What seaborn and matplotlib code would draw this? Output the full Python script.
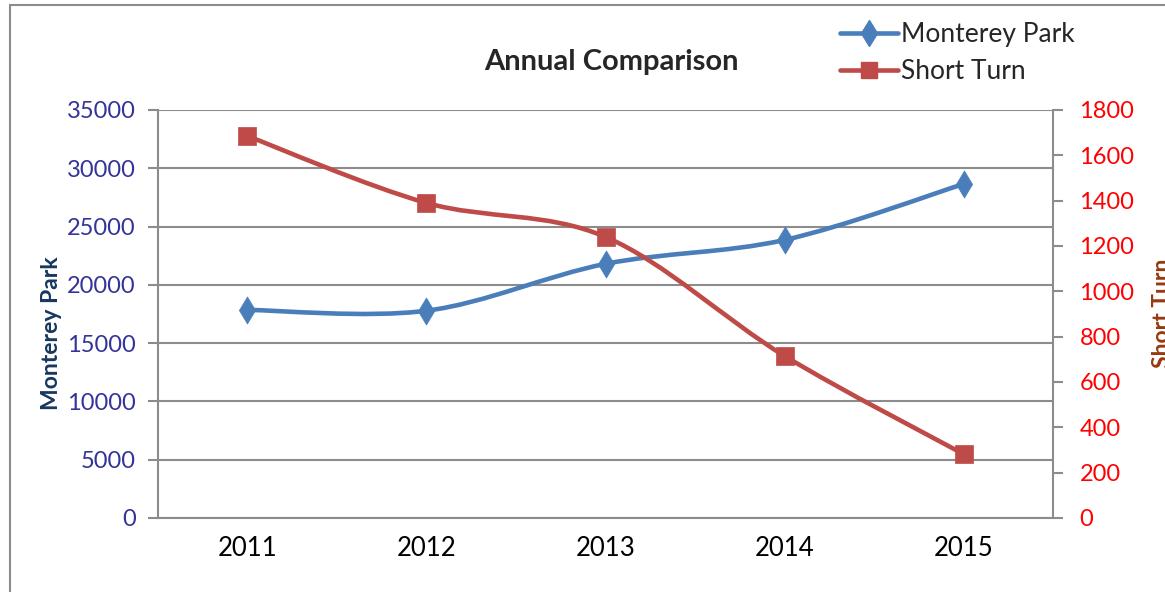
import numpy as np
import pandas as pd
import seaborn as sns
import matplotlib.pyplot as plt
from matplotlib.path import Path
from matplotlib.patches import PathPatch
from matplotlib.lines import Line2D

# data
years = ['2011', '2012', '2013', '2014', '2015']
monterey_park = [17850, 17780, 21800, 23850, 28650]
short_turn = [1685, 1390, 1240, 715, 282]

df = pd.DataFrame({'Year': years, 'Monterey Park': monterey_park, 'Short Turn': short_turn})
df['x'] = np.arange(len(df))

blue = '#4A7EBB'
red = '#BE4B48'
grey = '#8C8C8C'


def smooth_path(xs, ys):
    # excel-like smoothed line: bezier segments through the data points
    pts = np.column_stack([xs, ys]).astype(float)
    n = len(pts)
    verts = [pts[0]]
    codes = [Path.MOVETO]
    for i in range(n - 1):
        p0 = pts[max(i - 1, 0)]
        p1 = pts[i]
        p2 = pts[i + 1]
        p3 = pts[min(i + 2, n - 1)]
        verts += [p1 + (p2 - p0) / 6, p2 - (p3 - p1) / 6, p2]
        codes += [Path.CURVE4] * 3
    return Path(verts, codes)


sns.set_style('white')
plt.rcParams['font.family'] = ['Lato', 'DejaVu Sans']

fig = plt.figure(figsize=(11.65, 5.92), dpi=100)
ax = fig.add_axes([0.1356, 0.125, 0.7683, 0.6892])
ax2 = ax.twinx()

# Monterey Park on left axis
ax.add_patch(PathPatch(smooth_path(df['x'], df['Monterey Park']), fill=False,
                       edgecolor=blue, lw=3.3, capstyle='round', zorder=2))
sns.scatterplot(data=df, x='x', y='Monterey Park', ax=ax, marker='d', s=190,
                color=blue, edgecolor=blue, linewidth=0.5, zorder=3)

# Short Turn on right axis
ax2.add_patch(PathPatch(smooth_path(df['x'], df['Short Turn']), fill=False,
                        edgecolor=red, lw=3.3, capstyle='round', zorder=2))
sns.scatterplot(data=df, x='x', y='Short Turn', ax=ax2, marker='s', s=170,
                color=red, edgecolor=red, linewidth=0.5, zorder=3)

ax.set_xlim(-0.5, 4.5)
ax.set_ylim(0, 35000)
ax2.set_ylim(0, 1800)
ax.set_yticks(np.arange(0, 35001, 5000))
ax2.set_yticks(np.arange(0, 1801, 200))
ax.set_xticks(df['x'])
ax.set_xticklabels(years)
ax.set_xticks(np.arange(-0.5, 4.6, 1), minor=True)

ax.grid(axis='y', color=grey, lw=1.5)
ax.set_axisbelow(True)
ax.set_xlabel('')
ax.set_ylabel('')
ax2.set_ylabel('')

for a in (ax, ax2):
    for s in a.spines.values():
        s.set_visible(False)
ax.spines['left'].set_visible(True)
ax.spines['bottom'].set_visible(True)
ax2.spines['right'].set_visible(True)
for s in (ax.spines['left'], ax.spines['bottom'], ax2.spines['right']):
    s.set_color(grey)
    s.set_linewidth(1.5)

ax.tick_params(axis='x', which='major', length=0, pad=13, labelsize=18.5, labelcolor='black')
ax.tick_params(axis='x', which='minor', length=7, width=1.5, color=grey, direction='out')
ax.tick_params(axis='y', length=7, width=1.5, color=grey, direction='out', left=True,
               labelsize=17, labelcolor='#333399', pad=9)
ax2.tick_params(axis='y', length=7, width=1.5, color=grey, direction='out', right=True,
                labelsize=17, labelcolor='#FF0000', pad=12)

fig.text(0.525, 0.895, 'Annual Comparison', ha='center', va='center',
         fontsize=21, fontweight='bold')
fig.text(0.044, 0.438, 'Monterey Park', ha='center', va='center', rotation=90,
         fontsize=16.5, fontweight='bold', color='#17375E')
fig.text(0.989, 0.471, 'Short Turn', ha='left', va='center', rotation=90,
         fontsize=16.5, fontweight='bold', color='#953A0E')

handles = [Line2D([], [], color=blue, lw=3.3, marker='d', markersize=13),
           Line2D([], [], color=red, lw=3.3, marker='s', markersize=12)]
fig.legend(handles, ['Monterey Park', 'Short Turn'], loc='upper left',
           bbox_to_anchor=(0.701, 1.003), frameon=False, fontsize=19,
           handlelength=2.2, handletextpad=0.1, labelspacing=0.45)

# chart border (left and top)
fig.add_artist(Line2D([0.0086, 0.0086], [0, 0.992], color=grey, lw=1.5))
fig.add_artist(Line2D([0.0086, 1], [0.992, 0.992], color=grey, lw=1.5))

fig.savefig('out.png', dpi=100)
